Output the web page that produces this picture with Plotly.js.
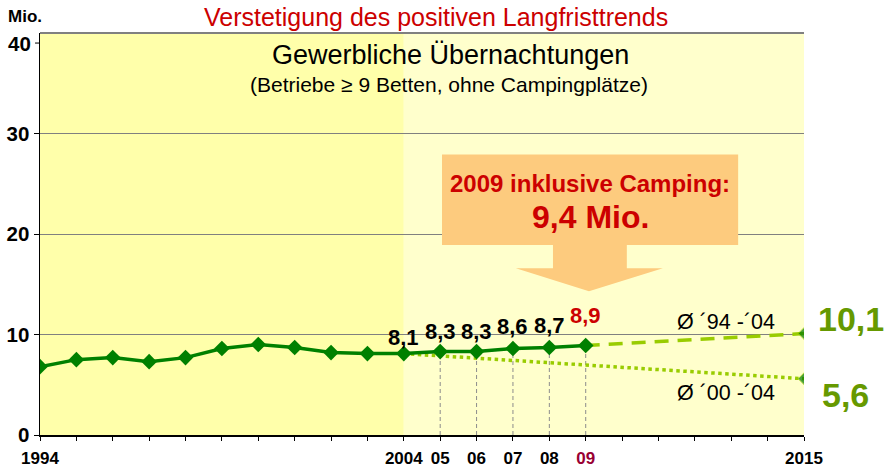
<!DOCTYPE html>
<html>
<head>
<meta charset="utf-8">
<script src="https://cdn.plot.ly/plotly-3.0.1.min.js"></script>
<style>
  html, body { margin: 0; padding: 0; background: #fff; }
  #chart { width: 888px; height: 467px; }
</style>
</head>
<body>
<div id="chart"></div>
<script>
// overnight stays (Mio.), commercial establishments >= 9 beds
const years = [1994, 1995, 1996, 1997, 1998, 1999, 2000, 2001, 2002, 2003, 2004, 2005, 2006, 2007, 2008, 2009];
const stays = [6.8, 7.5, 7.7, 7.3, 7.7, 8.6, 9.0, 8.7, 8.2, 8.1, 8.1, 8.3, 8.3, 8.6, 8.7, 8.9];

// trend projections to 2015
const trendLongYears = [2009, 2015];   // avg '94-'04
const trendLongValues = [8.9, 10.1];
const trendShortYears = [2004, 2015];  // avg '00-'04
const trendShortValues = [8.1, 5.6];

const labelYears = [2004, 2005, 2006, 2007, 2008, 2009];
const campingValue = 9.4;

const xTickYears = [1994, 1995, 1996, 1997, 1998, 1999, 2000, 2001, 2002, 2003, 2004,
                    2005, 2006, 2007, 2008, 2009, 2010, 2011, 2012, 2013, 2014, 2015];
const xTickLabels = ['1994', '', '', '', '', '', '', '', '', '', '2004',
                     '05', '06', '07', '08', '<span style="color:#990033">09</span>', '', '', '', '', '', '2015'];
const yTickVals = [0, 10, 20, 30];
const yTopLabel = '40';   // drawn a bit below the frame, as in the original

const FONT = 'Arial, "Liberation Sans", sans-serif';
const fmt = v => v.toFixed(1).replace('.', ',');
const valueAt = y => stays[years.indexOf(y)];

const traces = [
    {
        x: trendShortYears, y: trendShortValues,
        mode: 'lines+markers',
        line: { color: '#99CC00', width: 3.5, dash: 'dot' },
        marker: { symbol: 'diamond', size: [0, 9], color: '#007A00' },
        hoverinfo: 'skip'
    },
    {
        x: trendLongYears, y: trendLongValues,
        mode: 'lines+markers',
        line: { color: '#99CC00', width: 3.5, dash: '14px,9px' },
        marker: { symbol: 'diamond', size: [0, 9], color: '#007A00' },
        hoverinfo: 'skip'
    },
    {
        x: years, y: stays,
        mode: 'lines+markers',
        line: { color: '#008000', width: 3.5 },
        marker: { symbol: 'diamond', size: 12, color: '#008000' }
    }
];

// grey dashed drop lines for 2005-2009
const dropLines = labelYears.slice(1).map(yr => ({
    type: 'line', xref: 'x', yref: 'y',
    x0: yr, x1: yr, y0: 0, y1: valueAt(yr),
    line: { color: '#8c8c8c', width: 1, dash: '4px,3px' },
    layer: 'below'
}));

// centred text helper (anchors set explicitly, 'auto' would flip them)
const note = (xref, yref, x, y, text, size, color) => ({
    xref, yref, x, y, text, showarrow: false,
    xanchor: 'center', yanchor: 'middle',
    font: { family: FONT, size, color }
});

// extra lift of the value labels above the points
const labelLift = [16, 20, 20, 22, 22, 30];
const valueLabels = labelYears.map((yr, i) => ({
    ...note('x', 'y', yr, valueAt(yr), '<b>' + fmt(valueAt(yr)) + '</b>', 22,
            yr === 2009 ? '#CC0000' : '#000'),
    yshift: labelLift[i]
}));

const layout = {
    width: 888, height: 467,
    margin: { l: 40, r: 84, t: 33, b: 32 },
    paper_bgcolor: '#fff',
    plot_bgcolor: '#fff',
    showlegend: false,
    font: { family: FONT },
    xaxis: {
        range: [1994, 2015],
        tickvals: xTickYears,
        ticktext: xTickLabels,
        ticks: 'outside', ticklen: 4, tickcolor: '#000',
        ticklabelstandoff: 3,
        tickfont: { family: FONT, size: 17, color: '#000', weight: 'bold' },
        showline: true, linecolor: '#000', linewidth: 1.5,
        showgrid: false, zeroline: false, fixedrange: true
    },
    yaxis: {
        range: [0, 40],
        tickvals: yTickVals,
        ticks: 'outside', ticklen: 5, tickcolor: '#000',
        tickfont: { family: FONT, size: 20.5, color: '#000', weight: 'bold' },
        showline: true, linecolor: '#000', linewidth: 1.5,
        showgrid: true, gridcolor: '#808080', gridwidth: 1,
        zeroline: false, fixedrange: true
    },
    shapes: [
        // background bands
        { type: 'rect', xref: 'x', yref: 'paper', x0: 1994, x1: 2004, y0: 0, y1: 1,
          fillcolor: '#FFFFAA', line: { width: 0 }, layer: 'below' },
        { type: 'rect', xref: 'x', yref: 'paper', x0: 2004, x1: 2015, y0: 0, y1: 1,
          fillcolor: '#FFFFCC', line: { width: 0 }, layer: 'below' },
        // top border
        { type: 'line', xref: 'paper', yref: 'paper', x0: 0, x1: 1, y0: 1, y1: 1,
          line: { color: '#808080', width: 2 } },
        // tick mark for the top label
        { type: 'line', xref: 'paper', yref: 'y', x0: -0.0065, x1: 0, y0: 39, y1: 39,
          line: { color: '#000', width: 1 } },
        ...dropLines,
        // callout box with arrow pointing down at 2009
        { type: 'path', xref: 'x', yref: 'y',
          path: 'M2005.05,27.9 L2013.19,27.9 L2013.19,18.9 L2010.13,18.9 L2010.13,16.6 L2011.12,16.6 ' +
                'L2009.09,14.3 L2007.08,16.6 L2008.1,16.6 L2008.1,18.9 L2005.05,18.9 Z',
          fillcolor: '#FDCB7E', line: { width: 0 }, layer: 'above' }
    ],
    annotations: [
        note('paper', 'paper', 0.518, 1.04, 'Verstetigung des positiven Langfristtrends', 25, '#CC0000'),
        note('paper', 'paper', -0.0196, 1.042, '<b>Mio.</b>', 17, '#000'),
        { ...note('paper', 'y', 0, 39, '<b>' + yTopLabel + '</b>', 20.5, '#000'),
          xanchor: 'right', xshift: -7 },
        note('paper', 'paper', 0.537, 0.945, 'Gewerbliche Übernachtungen', 27, '#000'),
        note('paper', 'paper', 0.535, 0.873, '(Betriebe ≥ 9 Betten, ohne Campingplätze)', 21, '#000'),
        note('x', 'y', 2009.12, 25.0, '<b>2009 inklusive Camping:</b>', 24, '#CC0000'),
        note('x', 'y', 2009.12, 21.7, '<b>' + fmt(campingValue) + ' Mio.</b>', 32, '#CC0000'),
        ...valueLabels,
        note('x', 'y', 2012.86, 11.25, 'Ø ´94 -´04', 21.5, '#000'),
        note('x', 'y', 2012.86, 4.2, 'Ø ´00 -´04', 21.5, '#000'),
        { ...note('x', 'y', 2015, trendLongValues[1], '<b>' + fmt(trendLongValues[1]) + '</b>', 34, '#669900'),
          xanchor: 'left', xshift: 12, yshift: 15 },
        { ...note('x', 'y', 2015, trendShortValues[1], '<b>' + fmt(trendShortValues[1]) + '</b>', 34, '#669900'),
          xanchor: 'left', xshift: 16, yshift: -16 }
    ]
};

Plotly.newPlot('chart', traces, layout, { displayModeBar: false, staticPlot: true });
</script>
</body>
</html>
